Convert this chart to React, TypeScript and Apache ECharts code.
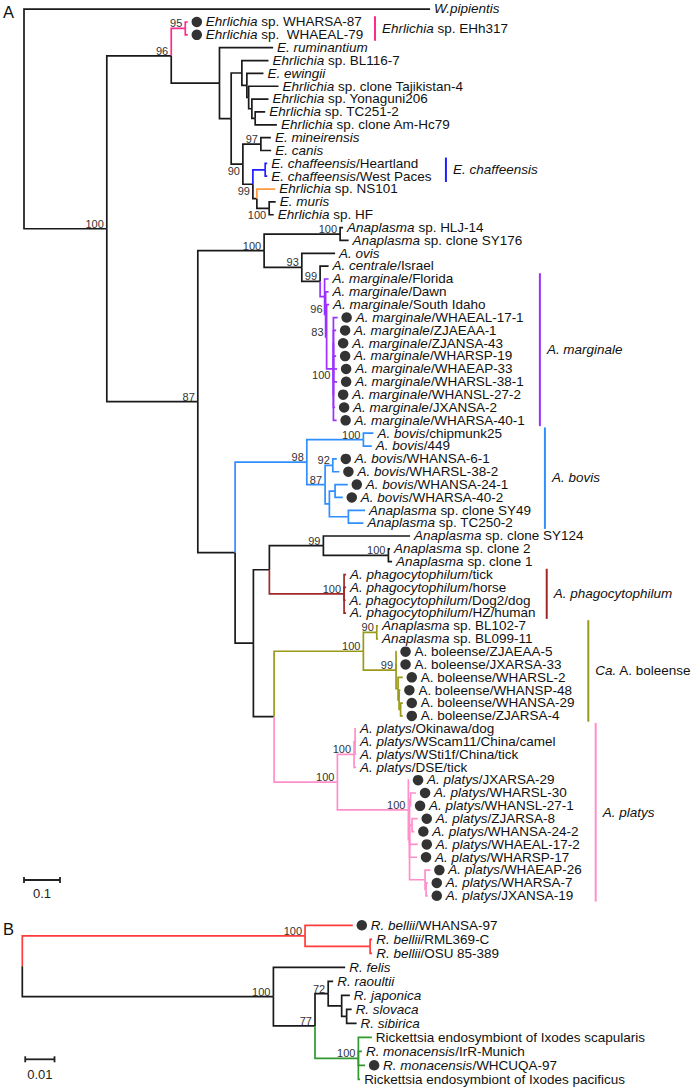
import { useEffect, useRef } from "react";
import * as echarts from "echarts";

// ---------- DATA ----------
// Tree rows: [node id / leaf label, parent id, branch length (subst./site), bootstrap, dot marker]
// Leaf labels: text between * * is italic.
type Row = [string, string, number, number | null, number?];

const treeA: Row[] = [
  ["rootA", "", 0, null],
  ["*W.pipientis*", "rootA", 1.128, null],
  ["eA", "rootA", 0.23, 100],
  ["e96", "eA", 0.179, 96],
  ["e95", "e96", 0.039, 95],
  ["*Ehrlichia* sp. WHARSA-87", "e95", 0.007, null, 1],
  ["*Ehrlichia* sp.  WHAEAL-79", "e95", 0.007, null, 1],
  ["e1", "e96", 0.134, null],
  ["*E. ruminantium*", "e1", 0.149, null],
  ["e2", "e1", 0.0325, null],
  ["e3", "e2", 0.0297, null],
  ["*Ehrlichia* sp. BL116-7", "e3", 0.0739, null],
  ["e4", "e3", 0.0139, null],
  ["*E. ewingii*", "e4", 0.0461, null],
  ["e5", "e4", 0.005, null],
  ["*Ehrlichia* sp. clone Tajikistan-4", "e5", 0.0828, null],
  ["e6", "e5", 0.0089, null],
  ["*Ehrlichia* sp. Yonaguni206", "e6", 0.0461, null],
  ["e7", "e6", 0.0092, null],
  ["*Ehrlichia* sp. TC251-2", "e7", 0.0278, null],
  ["*Ehrlichia* sp. clone Am-Hc79", "e7", 0.0603, null],
  ["e90", "e2", 0.0325, 90],
  ["e97", "e90", 0.05, 97],
  ["*E. mineirensis*", "e97", 0.0278, null],
  ["*E. canis*", "e97", 0.0286, null],
  ["e99", "e90", 0.0278, 99],
  ["eCh", "e99", 0.0342, null],
  ["*E. chaffeensis*/Heartland", "eCh", 0.0056, null],
  ["*E. chaffeensis*/West Paces", "eCh", 0.0056, null],
  ["eN", "e99", 0.0111, null],
  ["*Ehrlichia* sp. NS101", "eN", 0.0508, null],
  ["eM", "eN", 0.0342, 100],
  ["*E. muris*", "eM", 0.018, null],
  ["*Ehrlichia* sp. HF", "eM", 0.0125, null],
  ["a87", "eA", 0.2528, 87],
  ["aB", "a87", 0.1842, 100],
  ["aH", "aB", 0.2111, 100],
  ["*Anaplasma* sp. HLJ-14", "aH", 0.0083, null],
  ["*Anaplasma* sp. clone SY176", "aH", 0.0236, null],
  ["a93", "aB", 0.1047, 93],
  ["*A. ovis*", "a93", 0.0925, null],
  ["a99", "a93", 0.0508, 99],
  ["*A. centrale*/Israel", "a99", 0.0236, null],
  ["m1", "a99", 0.0125, null],
  ["*A. marginale*/Florida", "m1", 0.0111, null],
  ["m96", "m1", 0.0028, 96],
  ["*A. marginale*/Dawn", "m96", 0.0083, null],
  ["m83", "m96", 0.0028, 83],
  ["*A. marginale*/South Idaho", "m83", 0.0069, null],
  ["mD", "m83", 0.0189, 100],
  ["*A. marginale*/WHAEAL-17-1", "mD", 0.0117, null, 1],
  ["*A. marginale*/ZJAEAA-1", "mD", 0.0075, null, 1],
  ["*A. marginale*/ZJANSA-43", "mD", 0.002, null, 1],
  ["*A. marginale*/WHARSP-19", "mD", 0.0075, null, 1],
  ["*A. marginale*/WHAEAP-33", "mD", 0.0103, null, 1],
  ["*A. marginale*/WHARSL-38-1", "mD", 0.0103, null, 1],
  ["*A. marginale*/WHANSL-27-2", "mD", 0.002, null, 1],
  ["*A. marginale*/JXANSA-2", "mD", 0.0047, null, 1],
  ["*A. marginale*/WHARSA-40-1", "mD", 0.0089, null, 1],
  ["aL", "a87", 0.1036, null],
  ["b98", "aL", 0.1992, 98],
  ["b100", "b98", 0.1572, 100],
  ["*A. bovis*/chipmunk25", "b100", 0.0278, null],
  ["*A. bovis*/449", "b100", 0.0233, null],
  ["b87", "b98", 0.0508, 87],
  ["b92", "b87", 0.0214, 92],
  ["*A. bovis*/WHANSA-6-1", "b92", 0.0111, null, 1],
  ["*A. bovis*/WHARSL-38-2", "b92", 0.0183, null, 1],
  ["bS", "b87", 0.0119, null],
  ["bS1", "bS", 0.0158, null],
  ["*A. bovis*/WHANSA-24-1", "bS1", 0.0353, null, 1],
  ["*A. bovis*/WHARSA-40-2", "bS1", 0.0214, null, 1],
  ["bS2", "bS", 0.0528, null],
  ["*Anaplasma* sp. clone SY49", "bS2", 0.0464, null],
  ["*Anaplasma* sp. TC250-2", "bS2", 0.0417, null],
  ["aM", "aL", 0.0508, null],
  ["aM1", "aM", 0.0444, null],
  ["s99", "aM1", 0.15, 99],
  ["*Anaplasma* sp. clone SY124", "s99", 0.2408, null],
  ["s100", "s99", 0.1806, 100],
  ["*Anaplasma* sp. clone 2", "s100", 0.0047, null],
  ["*Anaplasma* sp. clone 1", "s100", 0.0103, null],
  ["p100", "aM1", 0.2075, 100],
  ["*A. phagocytophilum*/tick", "p100", 0.0056, null],
  ["*A. phagocytophilum*/horse", "p100", 0.0056, null],
  ["*A. phagocytophilum*/Dog2/dog", "p100", 0.0042, null],
  ["*A. phagocytophilum*/HZ/human", "p100", 0.0056, null],
  ["aM2", "aM", 0.0575, null],
  ["o100", "aM2", 0.248, 100],
  ["o90", "o100", 0.0372, 90],
  ["*Anaplasma* sp. BL102-7", "o90", 0.0036, null],
  ["*Anaplasma* sp. BL099-11", "o90", 0.0036, null],
  ["o99", "o100", 0.0908, 99],
  ["A. boleense/ZJAEAA-5", "o99", 0.0014, null, 1],
  ["A. boleense/JXARSA-33", "o99", 0.0014, null, 1],
  ["oS1", "o99", 0.0056, null],
  ["A. boleense/WHARSL-2", "oS1", 0.0131, null, 1],
  ["oS2", "oS1", 0.0028, null],
  ["A. boleense/WHANSP-48", "oS2", 0.0036, null, 1],
  ["oS3", "oS2", 0.0042, null],
  ["A. boleense/WHANSA-29", "oS3", 0.0061, null, 1],
  ["A. boleense/ZJARSA-4", "oS3", 0.0061, null, 1],
  ["t100", "aM2", 0.1758, 100],
  ["tU", "t100", 0.0464, 100],
  ["tU1", "tU", 0.0028, null],
  ["*A. platys*/Okinawa/dog", "tU1", 0.0028, null],
  ["*A. platys*/WScam11/China/camel", "tU1", 0.0028, null],
  ["*A. platys*/WSti1f/China/tick", "tU1", 0.0028, null],
  ["*A. platys*/DSE/tick", "tU", 0.0056, null],
  ["tP", "t100", 0.1972, 100],
  ["*A. platys*/JXARSA-29", "tP", 0.0019, null, 1],
  ["tQ", "tP", 0.0033, null],
  ["tA", "tQ", 0.0028, null],
  ["*A. platys*/WHARSL-30", "tA", 0.0153, null, 1],
  ["*A. platys*/WHANSL-27-1", "tA", 0.0014, null, 1],
  ["tB", "tQ", 0.0069, null],
  ["*A. platys*/ZJARSA-8", "tB", 0.0158, null, 1],
  ["*A. platys*/WHANSA-24-2", "tB", 0.0064, null, 1],
  ["*A. platys*/WHAEAL-17-2", "tQ", 0.0228, null, 1],
  ["*A. platys*/WHARSP-17", "tQ", 0.0208, null, 1],
  ["tC", "tQ", 0.0431, null],
  ["*A. platys*/WHAEAP-26", "tC", 0.0147, null, 1],
  ["tD", "tC", 0.0028, null],
  ["*A. platys*/WHARSA-7", "tD", 0.0047, null, 1],
  ["*A. platys*/JXANSA-19", "tD", 0.0047, null, 1],
];

const treeB: Row[] = [
  ["rootB", "", 0, null],
  ["rR", "rootB", 0.0965, 100],
  ["*R. bellii*/WHANSA-97", "rR", 0.0163, null, 1],
  ["rS", "rR", 0.0222, null],
  ["*R. bellii*/RML369-C", "rS", 0.0007, null],
  ["*R. bellii*/OSU 85-389", "rS", 0.0007, null],
  ["rK", "rootB", 0.0857, 100],
  ["*R. felis*", "rK", 0.0245, null],
  ["r77", "rK", 0.0142, 77],
  ["r72", "r77", 0.0045, 72],
  ["*R. raoultii*", "r72", 0.0017, null],
  ["rJ", "r72", 0.0046, null],
  ["*R. japonica*", "rJ", 0.0028, null],
  ["rS2", "rJ", 0.0017, null],
  ["*R. slovaca*", "rS2", 0.0017, null],
  ["*R. sibirica*", "rS2", 0.0034, null],
  ["rG", "r77", 0.0148, 100],
  ["Rickettsia endosymbiont of Ixodes scapularis", "rG", 0.0046, null],
  ["*R. monacensis*/IrR-Munich", "rG", 0.0012, null],
  ["*R. monacensis*/WHCUQA-97", "rG", 0.0023, null, 1],
  ["Rickettsia endosymbiont of Ixodes pacificus", "rG", 0.0006, null],
];

// Clade colouring (applies to the node's branch and its subtree)
const cladeColorsA: [string, string][] = [
  ["e95", "#ff2a8a"],
  ["eCh", "#1f1fff"],
  ["*Ehrlichia* sp. NS101", "#ff9a3c"],
  ["m1", "#9b30ff"],
  ["b98", "#2f8fff"],
  ["p100", "#a02828"],
  ["o100", "#9a9a1a"],
  ["t100", "#ff8fcb"],
];
const cladeColorsB: [string, string][] = [
  ["rR", "#ff3b3b"],
  ["rG", "#2e9a2e"],
];

// Clade bars on the right: [node id, label]
const cladesA: [string, string][] = [
  ["e95", "*Ehrlichia* sp. EHh317"],
  ["eCh", "*E. chaffeensis*"],
  ["m1", "*A. marginale*"],
  ["b98", "*A. bovis*"],
  ["p100", "*A. phagocytophilum*"],
  ["o100", "*Ca.* A. boleense"],
  ["t100", "*A. platys*"],
];

const scaleLenA = 0.1;
const scaleLenB = 0.01;
const scaleLabelA = "0.1";
const scaleLabelB = "0.01";

// ---------- STYLE / LAYOUT ----------
const FONT = '"Liberation Sans", Arial, Helvetica, sans-serif';
const LINE = "#1a1a1a";
const TXT = "#111111";
const SUP = "#333333";
const FS = 12.5; // label font size (stretched horizontally to the reference width)
const SX = 1.08;
const supportBelowA = ["e90", "e99", "eM", "mD"];
const cladeBarXA = [0.975, 1.172, 1.433, 1.447, 1.452, 1.5675, 1.588];

const rich = {
  i: { fontStyle: "italic", fontSize: FS, fontFamily: FONT, fill: TXT, lineHeight: 11 },
  n: { fontStyle: "normal", fontSize: FS, fontFamily: FONT, fill: TXT, lineHeight: 11 },
};

function richText(s: string) {
  return s
    .split("*")
    .map((seg, k) => (seg ? `{${k % 2 ? "i" : "n"}|${seg}}` : ""))
    .join("");
}

interface TNode {
  id: string;
  parent: string;
  len: number;
  sup: number | null;
  dot: boolean;
  children: TNode[];
  x: number;
  y: number;
  color: string;
}

function layoutTree(rows: Row[], colorPairs: [string, string][]) {
  const map = new Map<string, TNode>();
  rows.forEach((r) =>
    map.set(r[0], { id: r[0], parent: r[1], len: r[2], sup: r[3], dot: !!r[4], children: [], x: 0, y: 0, color: LINE })
  );
  let root: any = null;
  map.forEach((n) => {
    if (n.parent) map.get(n.parent)!.children.push(n);
    else root = n;
  });
  const colorMap = new Map(colorPairs);
  const leaves: TNode[] = [];
  const visit = (n: TNode, px: number, pc: string) => {
    n.x = px + n.len;
    n.color = colorMap.get(n.id) ?? pc;
    if (!n.children.length) {
      n.y = leaves.length;
      leaves.push(n);
      return;
    }
    n.children.forEach((c) => visit(c, n.x, n.color));
    n.y = (n.children[0].y + n.children[n.children.length - 1].y) / 2;
  };
  visit(root, 0, LINE);
  const all = Array.from(map.values());
  const range = (n: TNode): [number, number] =>
    n.children.length ? [range(n.children[0])[0], range(n.children[n.children.length - 1])[1]] : [n.y, n.y];
  return { all, leaves, map, range };
}

function labelEl(x: number, y: number, text: string) {
  return {
    type: "text",
    x,
    y,
    scaleX: SX,
    style: {
      text: richText(text),
      rich,
      fill: TXT,
      fontSize: FS,
      lineHeight: 11,
      fontFamily: FONT,
      align: "left",
      verticalAlign: "middle",
    },
  };
}

function panelSeries(
  k: number,
  rows: Row[],
  colorPairs: [string, string][],
  below: string[],
  clades: [string, string][],
  barX: number[],
  scale: { start: number; len: number; label: string; row: number; labelDy: number }
) {
  const { all, leaves, map, range } = layoutTree(rows, colorPairs);
  const base = { xAxisIndex: k, yAxisIndex: k, silent: true, animation: false, clip: false, itemStyle: { color: SUP } };
  const branchNodes = all.filter((n) => n.parent);
  const edges = branchNodes.map((n) => {
    const p = map.get(n.parent)!;
    return [p.x, p.y, n.x, n.y];
  });
  const supNodes = all.filter((n) => n.sup != null && n.children.length);
  const series: any[] = [
    {
      ...base,
      type: "custom",
      data: edges,
      renderItem: (params: any, api: any) => {
        const p0 = api.coord([api.value(0), api.value(1)]);
        const p1 = api.coord([api.value(2), api.value(3)]);
        return {
          type: "polyline",
          shape: { points: [[p0[0], p0[1]], [p0[0], p1[1]], [p1[0], p1[1]]] },
          style: { stroke: branchNodes[params.dataIndex].color, fill: "none", lineWidth: 1.7, lineJoin: "miter" },
        };
      },
    },
    {
      ...base,
      type: "custom",
      data: leaves.map((l) => [l.x, l.y]),
      renderItem: (params: any, api: any) => {
        const p = api.coord([api.value(0), api.value(1)]);
        const lf = leaves[params.dataIndex];
        return labelEl(p[0] + (lf.dot ? 18 : 4), p[1], lf.id);
      },
    },
    {
      ...base,
      type: "scatter",
      data: leaves.filter((l) => l.dot).map((l) => [l.x, l.y]),
      symbol: "circle",
      symbolSize: 10.5,
      symbolOffset: [9, 0],
      itemStyle: { color: "#000" },
    },
    {
      ...base,
      type: "custom",
      data: supNodes.map((n) => [n.x, n.y, n.sup, below.includes(n.id) ? 1 : 0]),
      renderItem: (params: any, api: any) => {
        const p = api.coord([api.value(0), api.value(1)]);
        const b = api.value(3) === 1;
        return {
          type: "text",
          x: p[0] - 3,
          y: b ? p[1] + 2 : p[1] - 0.5,
          style: {
            text: String(api.value(2)),
            align: "right",
            verticalAlign: b ? "top" : "bottom",
            fill: SUP,
            fontSize: 11,
            lineHeight: 9,
            fontFamily: FONT,
          },
        };
      },
    },
    {
      ...base,
      type: "custom",
      data: [[scale.start, scale.row, scale.start + scale.len]],
      renderItem: (params: any, api: any) => {
        const a = api.coord([api.value(0), api.value(1)]);
        const b = api.coord([api.value(2), api.value(1)]);
        const st = { stroke: "#222", lineWidth: 1.8 };
        return {
          type: "group",
          children: [
            { type: "line", shape: { x1: a[0], y1: a[1], x2: b[0], y2: b[1] }, style: st },
            { type: "line", shape: { x1: a[0], y1: a[1] - 3, x2: a[0], y2: a[1] + 3 }, style: st },
            { type: "line", shape: { x1: b[0], y1: b[1] - 3, x2: b[0], y2: b[1] + 3 }, style: st },
            {
              type: "text",
              x: (a[0] + b[0]) / 2,
              y: a[1] + scale.labelDy,
              style: { text: scale.label, align: "center", verticalAlign: "middle", fill: "#222", fontSize: 13, fontFamily: FONT },
            },
          ],
        };
      },
    },
  ];
  if (clades.length) {
    const cm = new Map(colorPairs);
    series.push({
      ...base,
      type: "custom",
      data: clades.map(([id], i) => {
        const r = range(map.get(id)!);
        return [barX[i], r[0], r[1]];
      }),
      renderItem: (params: any, api: any) => {
        const t = api.coord([api.value(0), api.value(1) - 0.45]);
        const b = api.coord([api.value(0), api.value(2) + 0.45]);
        const [id, label] = clades[params.dataIndex];
        return {
          type: "group",
          children: [
            { type: "line", shape: { x1: t[0], y1: t[1], x2: b[0], y2: b[1] }, style: { stroke: cm.get(id), lineWidth: 2 } },
            labelEl(t[0] + 7, (t[1] + b[1]) / 2, label),
          ],
        };
      },
    });
  }
  return series;
}

function buildOption() {
  const rowA = 12.85;
  const rowB = 14;
  const pxA = 360;
  const pxB = 2930;
  const gridA = { left: 24, top: 9.15, width: 673, height: 69 * rowA };
  const gridB = { left: 22.3, top: 925.3, width: 674.7, height: 11 * rowB };
  const xa = (g: any, px: number, i: number) => ({ type: "value", gridIndex: i, min: 0, max: g.width / px, show: false });
  const ya = (n: number, i: number) => ({ type: "value", gridIndex: i, min: 0, max: n, inverse: true, show: false });
  return {
    animation: false,
    backgroundColor: "#ffffff",
    grid: [gridA, gridB],
    xAxis: [xa(gridA, pxA, 0), xa(gridB, pxB, 1)],
    yAxis: [ya(69, 0), ya(11, 1)],
    graphic: [
      { type: "text", x: 3, y: 3, style: { text: "A", fontSize: 16.5, fontFamily: FONT, fill: TXT } },
      { type: "text", x: 3, y: 920, style: { text: "B", fontSize: 16.5, fontFamily: FONT, fill: TXT } },
    ],
    series: [
      ...panelSeries(0, treeA, cladeColorsA, supportBelowA, cladesA, cladeBarXA, {
        start: 0,
        len: scaleLenA,
        label: scaleLabelA,
        row: (880 - 9.15) / rowA,
        labelDy: 13,
      }),
      ...panelSeries(1, treeB, cladeColorsB, [], [], [], {
        start: 0.001,
        len: scaleLenB,
        label: scaleLabelB,
        row: (1059.3 - 925.3) / rowB,
        labelDy: 15,
      }),
    ],
  };
}

export default function App() {
  const ref = useRef<HTMLDivElement>(null);
  useEffect(() => {
    document.body.style.margin = "0";
    const chart = echarts.init(ref.current!, null, { renderer: "svg" });
    chart.setOption(buildOption() as any);
    return () => chart.dispose();
  }, []);
  return <div ref={ref} style={{ width: 697, height: 1091 }} />;
}
